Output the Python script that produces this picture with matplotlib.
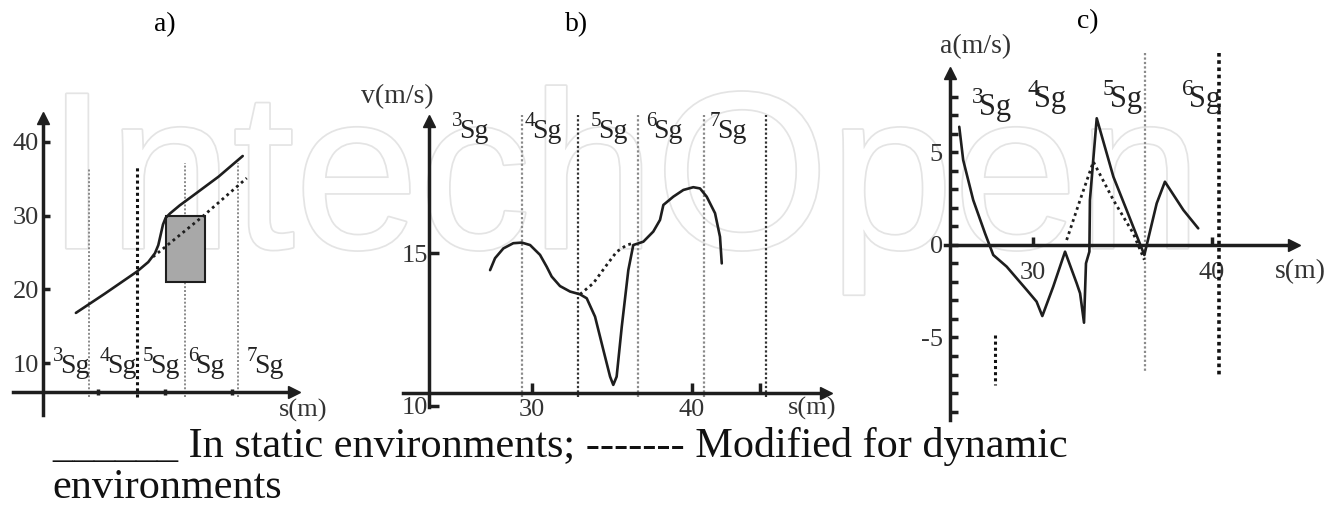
import numpy as np
import matplotlib.pyplot as plt
import matplotlib.patheffects as pe
from matplotlib.patches import Rectangle

W, H = 1336, 507
INK = '#1e1e1e'
plt.rcParams['font.family'] = ['Liberation Serif', 'DejaVu Serif']

# ---- panel a) data ----
a_static_s = [6.7, 11.0, 15.8, 17.5, 18.5, 19.0, 19.4, 19.7, 20.1, 20.75, 22.2, 24.0, 28.0, 31.6]
a_static_v = [16.8, 19.4, 22.4, 23.7, 24.9, 26.0, 27.6, 28.8, 29.7, 30.3, 31.4, 32.6, 35.3, 38.1]
a_dyn_s = [18.2, 25.5, 32.2]
a_dyn_v = [24.4, 29.8, 35.1]
a_box = (20.1, 21.0, 5.9, 9.0)          # s0, v0, width, height of the obstacle
a_seg_s = [8.66, 15.82, 22.99, 30.9]
a_seg_top = [36.5, 36.7, 37.2, 37.2]
a_yticks = [10, 20, 30, 40]
a_xticks = [10, 20, 30]

# ---- panel b) data ----
b_static_s = [27.38, 27.69, 28.21, 28.83, 29.36, 29.88, 30.5, 30.92, 31.23, 31.75, 32.38,
              33.0, 33.42, 33.94, 34.46, 34.88, 35.08, 35.29, 35.61, 36.02, 36.33, 36.96,
              37.58, 38.0, 38.21, 38.83, 39.46, 40.08, 40.5, 40.92, 41.44, 41.75, 41.86]
b_static_v = [14.44, 14.83, 15.15, 15.32, 15.34, 15.26, 14.94, 14.55, 14.23, 13.92, 13.74,
              13.65, 13.52, 12.92, 11.83, 10.96, 10.69, 10.96, 12.59, 14.44, 15.26, 15.37,
              15.7, 16.08, 16.57, 16.84, 17.06, 17.15, 17.11, 16.84, 16.3, 15.53, 14.66]
b_dyn_s = [33.0, 33.83, 34.67, 35.29, 35.92, 36.33]
b_dyn_v = [13.65, 14.01, 14.61, 15.04, 15.26, 15.32]
b_seg_s = [29.4, 32.9, 36.6, 40.75, 44.6]
b_yticks = [10, 15]
b_xticks = [30, 40]
b_xminor = [44.25]

# ---- panel c) data ----
c_static_s = [25.88, 26.1, 26.66, 27.32, 27.78, 28.53, 29.65, 30.2, 30.52, 31.13, 31.79,
              32.44, 32.63, 32.85, 32.96, 33.15, 33.18, 33.56, 34.49, 35.23, 36.22,
              36.91, 37.37, 38.4, 39.23]
c_static_a = [6.39, 4.59, 2.43, 0.63, -0.54, -1.17, -2.43, -3.06, -3.84, -2.25, -0.36,
              -2.07, -2.61, -4.2, -0.99, -0.36, 2.43, 6.85, 3.69, 1.89, -0.54,
              2.25, 3.42, 1.89, 0.9]
c_dyn_s = [31.88, 32.63, 33.37, 34.49, 35.6, 36.22]
c_dyn_a = [0.27, 2.43, 4.5, 2.43, 0.63, -0.8]
c_yticks = [-5, 0, 5]
c_xticks = [30, 40]

fig = plt.figure(figsize=(W / 100, H / 100), dpi=100)
fig.patch.set_facecolor('white')


def fpos(x, y):
    # pixel position -> figure fraction
    return x / W, 1 - y / H


def overlay(xp, xv, yp, yv):
    # full-figure axes whose data scale is pinned by two reference points per axis
    ax = fig.add_axes([0, 0, 1, 1])
    ax.patch.set_alpha(0)
    kx = (xp[1] - xp[0]) / (xv[1] - xv[0])
    ky = (yp[1] - yp[0]) / (yv[1] - yv[0])
    ax.set_xlim(xv[0] - xp[0] / kx, xv[0] + (W - xp[0]) / kx)
    ax.set_ylim(yv[0] + (H - yp[0]) / ky, yv[0] - yp[0] / ky)
    for side in ['top', 'right']:
        ax.spines[side].set_visible(False)
    for side in ['left', 'bottom']:
        ax.spines[side].set_linewidth(2.5)
        ax.spines[side].set_color(INK)
    ax.tick_params(direction='in', length=5, width=2.5, color=INK, labelsize=19,
                   labelcolor='#333333')
    return ax


def frame(ax, x0, ybounds, y0, xbounds):
    ax.spines['left'].set_position(('data', x0))
    ax.spines['left'].set_bounds(*ybounds)
    ax.spines['bottom'].set_position(('data', y0))
    ax.spines['bottom'].set_bounds(*xbounds)
    ax.plot([x0], [ybounds[1]], marker='^', ms=9, color=INK, clip_on=False)
    ax.plot([xbounds[1]], [y0], marker='>', ms=9, color=INK, clip_on=False)


def curve(ax, s, v, dotted=False):
    if dotted:
        ax.plot(s, v, color=INK, lw=2.0, ls=(0, (1, 1.3)), zorder=3)
    else:
        ax.plot(s, v, color=INK, lw=1.9, zorder=3, solid_joinstyle='round',
                solid_capstyle='round')


def sg(x, y, n, size=20):
    fig.text(*fpos(x, y), str(n), fontsize=size - 5, color='#222222', va='baseline')
    fig.text(*fpos(x + 7, y + 12), 'Sg', fontsize=size, color='#222222', va='baseline')


# watermark
fig.text(*fpos(46, 248), 'IntechOpen', fontsize=161, family='Liberation Sans',
         color='white', va='baseline', zorder=-5,
         path_effects=[pe.withStroke(linewidth=2.5, foreground='#e4e4e4')])

# ---------------- a) ----------------
ax = overlay((98, 232), (10, 30), (363, 142), (10, 40))
frame(ax, 1.8, (2.9, 43.3), 6.06, (-2.7, 39.3))
for s, top in zip(a_seg_s, a_seg_top):
    dark = s == a_seg_s[1]
    ax.plot([s, s], [5.4, top], color='#111111' if dark else '#8a8a8a',
            lw=2.2 if dark else 1.4, ls=(0, (1, 1)))
ax.add_patch(Rectangle(a_box[:2], a_box[2], a_box[3], facecolor='#a8a8a8',
                       edgecolor=INK, lw=1.5, zorder=2))
curve(ax, a_static_s, a_static_v)
curve(ax, a_dyn_s, a_dyn_v, dotted=True)
ax.set_yticks(a_yticks)
ax.set_xticks(a_xticks)
ax.set_xticklabels([])
ax.tick_params(axis='x', direction='inout', length=5)
ax.tick_params(axis='y', pad=3)
fig.text(*fpos(165, 25), 'a)', fontsize=20, ha='center', va='center')
fig.text(*fpos(303, 410), 's(m)', fontsize=19, ha='center', va='center', color='#333333')
for x, n in zip([53, 100, 143, 188, 247], [3, 4, 5, 6, 7]):
    sg(x, 361, n, size=20)

# ---------------- b) ----------------
ax = overlay((532, 692), (30, 40), (253, 406), (15, 10))
frame(ax, 23.56, (9.97, 19.3), 10.42, (21.94, 48.4))
for i, s in enumerate(b_seg_s):
    ax.plot([s, s], [10.3, 19.5], color='#333333' if i in (1, 4) else '#8a8a8a',
            lw=1.6, ls=(0, (1, 1)))
curve(ax, b_static_s, b_static_v)
curve(ax, b_dyn_s, b_dyn_v, dotted=True)
ax.set_yticks(b_yticks)
ax.set_xticks(b_xticks)
ax.set_xticks(b_xminor, minor=True)
ax.tick_params(which='both', direction='in', length=7, width=2.5, color=INK)
ax.tick_params(axis='x', pad=4)
ax.tick_params(axis='y', pad=1)
fig.text(*fpos(577, 25), 'b)', fontsize=20, ha='center', va='center')
fig.text(*fpos(812, 408), 's(m)', fontsize=19, ha='center', va='center', color='#333333')
fig.text(*fpos(397, 97), 'v(m/s)', fontsize=20, ha='center', va='center', color='#333333')
for x, n in zip([452, 525, 591, 646, 710], [3, 4, 5, 6, 7]):
    sg(x, 126, n, size=20)

# ---------------- c) ----------------
ax = overlay((1033, 1212), (30, 40), (245, 152.5), (0, 5))
frame(ax, 25.36, (-9.46, 9.3), 0, (25.08, 44.6))
ax.plot([27.9, 27.9], [-4.86, -7.57], color='#111111', lw=2.2, ls=(0, (1, 1)))
ax.plot([36.26, 36.26], [10.38, -6.92], color='#8a8a8a', lw=1.6, ls=(0, (1, 1)))
ax.plot([40.4, 40.4], [10.38, -7.14], color='#111111', lw=2.6, ls=(0, (1, 1)))
curve(ax, c_static_s, c_static_a)
curve(ax, c_dyn_s, c_dyn_a, dotted=True)
ax.set_yticks(c_yticks)
ax.set_yticklabels(['-5', '0', '5'])
ax.set_yticks(list(range(-9, 9)), minor=True)
ax.set_xticks(c_xticks)
ax.tick_params(which='both', direction='in', length=6, width=2.5, color=INK)
ax.tick_params(axis='x', pad=12)
ax.tick_params(axis='y', pad=5)
fig.text(*fpos(1088, 22), 'c)', fontsize=20, ha='center', va='center')
fig.text(*fpos(1300, 272), 's(m)', fontsize=20, ha='center', va='center', color='#333333')
fig.text(*fpos(976, 47), 'a(m/s)', fontsize=20, ha='center', va='center', color='#333333')
for x, yb, n in zip([972, 1027, 1103, 1182], [103, 95, 95, 95], [3, 4, 5, 6]):
    sg(x, yb, n, size=22)

# caption
fig.text(*fpos(52, 457), '______ In static environments; ------- Modified for dynamic',
         fontsize=30.4, va='baseline', color='#111111')
fig.text(*fpos(52, 498), 'environments', fontsize=30.4, va='baseline', color='#111111')

fig.savefig('out.png', dpi=100, facecolor='white')
